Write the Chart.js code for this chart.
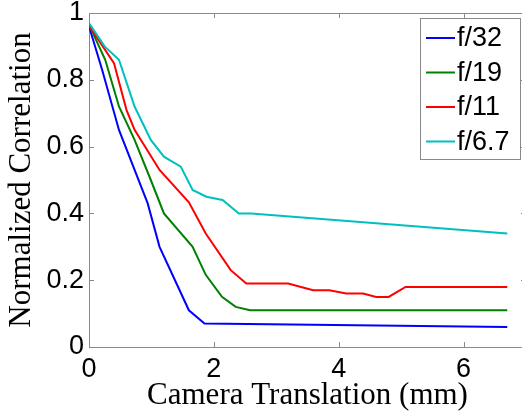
<!DOCTYPE html>
<html><head><meta charset="utf-8">
<script src="https://cdn.jsdelivr.net/npm/chart.js@4/dist/chart.umd.min.js"></script>
<style>
html,body{margin:0;padding:0;overflow:hidden;background:#fff;width:522px;height:414px}
#wrap{position:absolute;left:0;top:0;width:540px;height:414px}
</style></head>
<body><div id="wrap"><canvas id="c" width="540" height="414"></canvas></div>
<script>
// ---- data ----
const seriesLabels = ['f/32', 'f/19', 'f/11', 'f/6.7'];
const seriesColors = ['#0000ff', '#008000', '#ff0000', '#00bfbf'];

const xF32 = [0, 0.21, 0.48, 0.94, 1.13, 1.6, 1.85, 6.7];
const yF32 = [0.96, 0.83, 0.65, 0.43, 0.30, 0.11, 0.07, 0.06];

const xF19 = [0, 0.26, 0.48, 0.73, 0.99, 1.2, 1.66, 1.87, 2.13, 2.35, 2.58, 6.7];
const yF19 = [0.965, 0.86, 0.72, 0.62, 0.50, 0.40, 0.30, 0.216, 0.15, 0.12, 0.11, 0.11];

const xF11 = [0, 0.40, 0.6, 0.73, 1.13, 1.6, 1.87, 2.27, 2.52, 3.19, 3.59, 3.85, 4.12, 4.39, 4.6, 4.8, 5.07, 6.7];
const yF11 = [0.962, 0.85, 0.71, 0.65, 0.53, 0.433, 0.34, 0.23, 0.19, 0.19, 0.17, 0.17, 0.16, 0.16, 0.15, 0.15, 0.18, 0.18];

const xF67 = [0, 0.25, 0.48, 0.73, 0.99, 1.2, 1.47, 1.66, 1.88, 2.14, 2.4, 2.6, 6.7];
const yF67 = [0.97, 0.90, 0.86, 0.72, 0.62, 0.57, 0.54, 0.47, 0.45, 0.44, 0.40, 0.40, 0.34];

const xTicks = [0, 2, 4, 6];
const yTicks = [0, 0.2, 0.4, 0.6, 0.8, 1];
const xTitle = 'Camera Translation (mm)';
const yTitle = 'Normalized Correlation';

const xs = [xF32, xF19, xF11, xF67];
const ys = [yF32, yF19, yF11, yF67];

const AX = '#8a8a8a';
const tickFont = {family: 'Liberation Sans', size: 27};
const titleFont = {family: 'Liberation Serif', size: 31};

const datasets = seriesLabels.map((lab, i) => ({
  label: lab,
  data: xs[i].map((x, j) => ({x: x, y: ys[i][j]})),
  borderColor: seriesColors[i],
  backgroundColor: seriesColors[i],
  borderWidth: 2,
  pointRadius: 0,
  tension: 0,
  fill: false,
  order: seriesLabels.length - i
}));

const frame = {
  id: 'frame',
  afterDatasetsDraw(chart) {
    const ctx = chart.ctx, a = chart.chartArea;
    const sx = chart.scales.x, sy = chart.scales.y;
    ctx.save();
    ctx.strokeStyle = AX;
    ctx.lineWidth = 1;
    ctx.beginPath();
    ctx.moveTo(a.left, a.top + 0.5); ctx.lineTo(a.right, a.top + 0.5);
    ctx.moveTo(a.right - 0.5, a.top); ctx.lineTo(a.right - 0.5, a.bottom);
    const L = 5;
    sx.ticks.forEach(t => {
      const p = Math.round(sx.getPixelForValue(t.value)) + 0.5;
      ctx.moveTo(p, a.bottom); ctx.lineTo(p, a.bottom - L);
      ctx.moveTo(p, a.top); ctx.lineTo(p, a.top + L);
    });
    sy.ticks.forEach(t => {
      const p = Math.round(sy.getPixelForValue(t.value)) + 0.5;
      ctx.moveTo(a.left, p); ctx.lineTo(a.left + L, p);
      ctx.moveTo(a.right, p); ctx.lineTo(a.right - L, p);
    });
    ctx.stroke();
    // legend box
    const bx = 420.5, by = 18.5, bw = 100, bh = 141;
    ctx.fillStyle = '#fff';
    ctx.fillRect(bx, by, bw, bh);
    ctx.strokeStyle = AX;
    ctx.strokeRect(bx, by, bw, bh);
    ctx.font = '27px "Liberation Sans"';
    ctx.textBaseline = 'middle';
    ctx.textAlign = 'left';
    chart.data.datasets.forEach((ds, i) => {
      const yc = 38 + i * 34.5;
      ctx.strokeStyle = ds.borderColor;
      ctx.lineWidth = 2;
      ctx.beginPath();
      ctx.moveTo(426, yc); ctx.lineTo(455, yc);
      ctx.stroke();
      ctx.fillStyle = '#000';
      ctx.fillText(ds.label, 457, yc + 1);
    });
    ctx.restore();
  }
};

new Chart(document.getElementById('c'), {
  type: 'line',
  data: {datasets: datasets},
  plugins: [frame],
  options: {
    responsive: false,
    animation: false,
    layout: {padding: {top: 13, right: 14, bottom: 0, left: 0}},
    plugins: {legend: {display: false}, tooltip: {enabled: false}},
    scales: {
      x: {
        type: 'linear', min: 0, max: 7,
        afterBuildTicks(s) { s.ticks = xTicks.map(v => ({value: v})); },
        ticks: {font: tickFont, color: '#000', padding: 6, maxRotation: 0,
                callback: v => String(v)},
        grid: {display: true, drawOnChartArea: false, drawTicks: false},
        border: {display: true, color: AX, width: 1},
        title: {display: true, text: xTitle, font: titleFont, color: '#000', padding: {top: 0, bottom: 0}},
        afterFit(s) { s.height = 67; s.paddingLeft = 0; s.paddingRight = 0; }
      },
      y: {
        type: 'linear', min: 0, max: 1,
        afterBuildTicks(s) { s.ticks = yTicks.map(v => ({value: v})); },
        ticks: {font: tickFont, color: '#000', padding: 5,
                callback: v => String(Math.round(v * 10) / 10)},
        grid: {display: true, drawOnChartArea: false, drawTicks: false},
        border: {display: true, color: AX, width: 1},
        title: {display: true, text: yTitle, font: titleFont, color: '#000', padding: {top: 3, bottom: 0}},
        afterFit(s) { s.width = 89; s.paddingTop = 0; s.paddingBottom = 0; }
      }
    }
  }
});
</script>
</body></html>
